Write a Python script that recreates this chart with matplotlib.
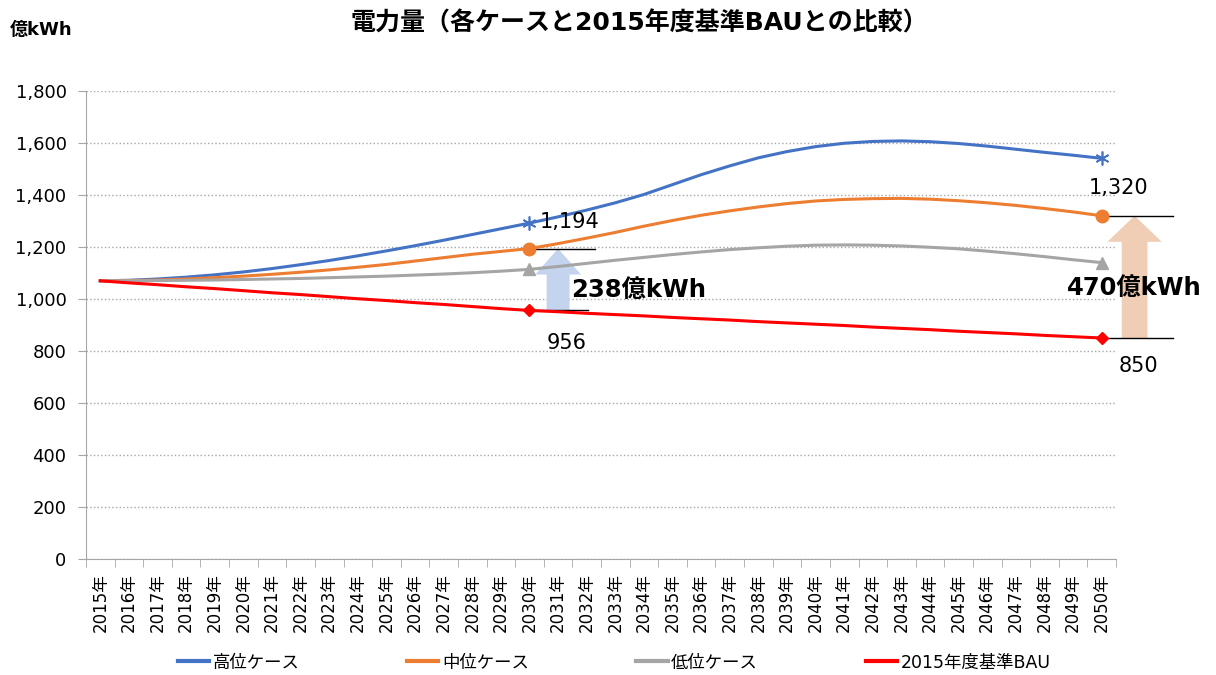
import matplotlib
matplotlib.use("Agg")
import matplotlib.pyplot as plt
from matplotlib.lines import Line2D
import numpy as np

plt.rcParams['font.family'] = ['DejaVu Sans', 'Noto Sans CJK JP']

years = [f"{y}年" for y in range(2015, 2051)]

high = [1070, 1072, 1077, 1084, 1093, 1104, 1117, 1132, 1148, 1166, 1185, 1205,
        1226, 1248, 1270, 1292, 1316, 1342, 1370, 1402, 1440, 1478, 1512, 1543,
        1567, 1586, 1599, 1606, 1608, 1605, 1598, 1588, 1576, 1564, 1553, 1541]
mid = [1070, 1071, 1073, 1077, 1082, 1088, 1095, 1103, 1112, 1122, 1133, 1146,
       1159, 1172, 1183, 1194, 1213, 1234, 1256, 1280, 1302, 1322, 1339, 1354,
       1367, 1377, 1383, 1386, 1387, 1384, 1378, 1370, 1360, 1348, 1335, 1320]
low = [1070, 1070, 1071, 1072, 1073, 1075, 1077, 1079, 1082, 1085, 1088, 1092,
       1096, 1101, 1107, 1114, 1125, 1137, 1149, 1160, 1171, 1181, 1190, 1197,
       1203, 1207, 1208, 1207, 1204, 1199, 1193, 1184, 1174, 1163, 1151, 1140]
bau = [1070, 1062, 1055, 1047, 1040, 1032, 1024, 1017, 1009, 1001, 994, 986,
       979, 971, 963, 956, 951, 945, 940, 935, 929, 924, 919, 913,
       908, 903, 898, 892, 887, 882, 876, 871, 866, 860, 855, 850]

names = ['高位ケース', '中位ケース', '低位ケース', '2015年度基準BAU']
colors = ['#4472C4', '#ED7D31', '#A5A5A5', '#FF0000']

fig = plt.figure(figsize=(12.16, 6.75), dpi=100)
ax = fig.add_axes([86/1216, 1 - 559/675, (1116-86)/1216, (559-91)/675])

x = np.arange(len(years))
mk = [15, 35]
ax.plot(x, high, color=colors[0], lw=2.2, marker=(6, 2, 0), markevery=mk, ms=10, mew=1.2)
ax.plot(x, mid, color=colors[1], lw=2.2, marker='o', markevery=mk, ms=9)
ax.plot(x, low, color=colors[2], lw=2.2, marker='^', markevery=mk, ms=9)
ax.plot(x, bau, color=colors[3], lw=2.2, marker='D', markevery=mk, ms=6)

ax.set_xlim(-0.5, len(years) - 0.5)
ax.set_ylim(0, 1800)
ax.set_yticks(range(0, 1801, 200))
ax.set_yticklabels([f"{v:,}" for v in range(0, 1801, 200)], fontsize=13)
ax.yaxis.grid(True, color='#A6A6A6', ls=':', lw=1)
ax.set_axisbelow(True)
ax.tick_params(axis='y', length=6, color='#A6A6A6', pad=8)

ax.set_xticks(x)
ax.set_xticklabels(years, rotation=90, fontsize=12)
ax.tick_params(axis='x', which='major', length=0, pad=10)
ax.set_xticks(np.arange(-0.5, len(years), 1), minor=True)
ax.tick_params(axis='x', which='minor', length=6, color='#A6A6A6')

for s in ['top', 'right']:
    ax.spines[s].set_visible(False)
for s in ['left', 'bottom']:
    ax.spines[s].set_color('#A6A6A6')

# arrows
ax.arrow(16.0, bau[15], 0, mid[15] - bau[15], width=0.8, head_width=1.6,
         head_length=100, length_includes_head=True, color='#C5D4EE', lw=0, zorder=1)
ax.arrow(36.15, bau[35], 0, mid[35] - bau[35], width=0.9, head_width=1.9,
         head_length=100, length_includes_head=True, color='#F0CDB5', lw=0,
         zorder=1, clip_on=False)

# reference lines
ax.plot([15, 17.3], [mid[15], mid[15]], color='black', lw=1, zorder=1)
ax.plot([15, 17.05], [bau[15], bau[15]], color='black', lw=1, zorder=1)
ax.plot([35, 37.5], [mid[35], mid[35]], color='black', lw=1, zorder=1, clip_on=False)
ax.plot([35, 37.5], [bau[35], bau[35]], color='black', lw=1, zorder=1, clip_on=False)

ax.text(15.35, 1296, f"{mid[15]:,}", fontsize=15, va='center', ha='left')
ax.text(16.3, 831, f"{bau[15]:,}", fontsize=15, va='center', ha='center')
ax.text(35.6, 1427, f"{mid[35]:,}", fontsize=15, va='center', ha='center')
ax.text(36.3, 742, f"{bau[35]:,}", fontsize=15, va='center', ha='center')
ax.text(16.45, 1035, f"{mid[15] - bau[15]}億kWh", fontsize=17.5, fontweight='bold',
        va='center', ha='left')
ax.text(33.8, 1042, f"{mid[35] - bau[35]}億kWh", fontsize=17.5, fontweight='bold',
        va='center', ha='left', clip_on=False)

fig.text(0.526, 0.966, '電力量（各ケースと2015年度基準BAUとの比較）', fontsize=18,
         fontweight='bold', ha='center', va='center')
fig.text(0.008, 0.955, '億kWh', fontsize=13, fontweight='bold', ha='left', va='center')

handles = [Line2D([], [], color=c, lw=3) for c in colors]
fig.legend(handles, names, loc='lower center', bbox_to_anchor=(0.505, -0.018), ncol=4,
           frameon=False, fontsize=12.5, handlelength=1.8, columnspacing=6.2,
           handletextpad=0.2)

fig.savefig('out.png', dpi=100)
